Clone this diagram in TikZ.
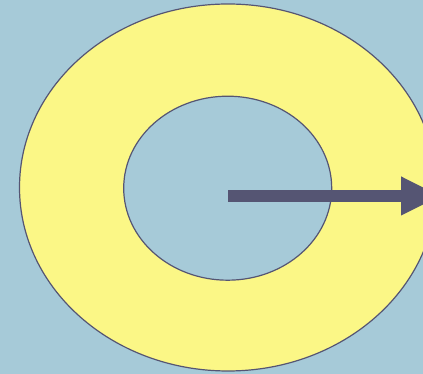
\documentclass[tikz,border=0pt]{standalone}
\usetikzlibrary{arrows.meta}
\definecolor{bgblue}{RGB}{166,202,216}
\definecolor{ringyellow}{RGB}{251,247,134}
\definecolor{slate}{RGB}{85,85,115}
\begin{document}
\begin{tikzpicture}[x=1pt,y=1pt,
    rim/.style={draw=slate, line width=1.2pt},
    radius arrow/.style={slate, line width=11.5pt,
      -{Triangle[length=40pt,width=36pt]}}]
    \clip (0,0) rectangle (423,374);
    \fill[bgblue] (0,0) rectangle (423,374);
    % ring
    \coordinate (centre) at (228,186.5);
    \filldraw[rim, fill=ringyellow] (centre) ellipse [x radius=208.5, y radius=183.5];
    \filldraw[rim, fill=bgblue] (227.7,185.8) ellipse [x radius=104, y radius=92];
    % arrow
    \coordinate (start) at (228,178);
    \coordinate (tip) at (441,178);
    \draw[radius arrow] (start) -- (tip);
  \end{tikzpicture}
\end{document}
